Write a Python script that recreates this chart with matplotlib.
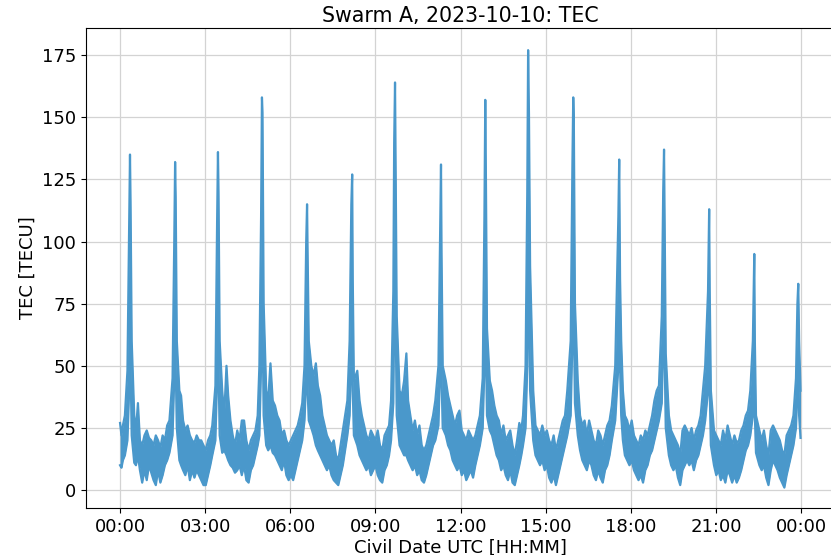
import matplotlib
matplotlib.use("Agg")
import matplotlib.pyplot as plt
import matplotlib.dates as mdates
import numpy as np
import pandas as pd

plt.rcParams["font.family"] = "DejaVu Sans"
plt.rcParams["font.size"] = 13

# hours after 2023-10-10 00:00 UTC, with the lower and upper edge of the TEC band
hours = [
    0.00, 0.05, 0.10, 0.17, 0.26, 0.32, 0.35, 0.37, 0.41, 0.50, 0.56, 0.63, 0.70, 0.78, 0.86, 0.94,
    1.02, 1.10, 1.18, 1.26, 1.34, 1.42, 1.50, 1.58, 1.66, 1.74, 1.85, 1.91, 1.94, 1.96, 2.00, 2.09,
    2.15, 2.22, 2.30, 2.38, 2.46, 2.54, 2.62, 2.70, 2.78, 2.86, 2.94, 3.02, 3.10, 3.18, 3.25, 3.36,
    3.42, 3.45, 3.47, 3.51, 3.60, 3.67, 3.75, 3.81, 3.89, 3.97, 4.05, 4.13, 4.21, 4.29, 4.37, 4.45,
    4.53, 4.61, 4.69, 4.77, 4.85, 4.91, 4.97, 5.00, 5.02, 5.06, 5.15, 5.22, 5.30, 5.38, 5.46, 5.54,
    5.62, 5.70, 5.78, 5.86, 5.94, 6.02, 6.10, 6.18, 6.26, 6.34, 6.42, 6.50, 6.56, 6.59, 6.61, 6.65,
    6.74, 6.82, 6.90, 6.97, 7.05, 7.13, 7.21, 7.29, 7.37, 7.45, 7.53, 7.61, 7.69, 7.77, 7.85, 7.93,
    8.01, 8.09, 8.15, 8.18, 8.20, 8.24, 8.36, 8.44, 8.52, 8.60, 8.68, 8.76, 8.84, 8.92, 9.00, 9.08,
    9.16, 9.24, 9.32, 9.40, 9.48, 9.55, 9.63, 9.66, 9.69, 9.71, 9.75, 9.85, 9.93, 10.01, 10.09, 10.15,
    10.23, 10.31, 10.39, 10.47, 10.55, 10.63, 10.71, 10.79, 10.87, 10.95, 11.03, 11.11, 11.22, 11.28, 11.31, 11.33,
    11.37, 11.48, 11.56, 11.64, 11.72, 11.80, 11.88, 11.96, 12.04, 12.12, 12.20, 12.28, 12.36, 12.44, 12.52, 12.60,
    12.68, 12.78, 12.84, 12.87, 12.89, 12.93, 13.03, 13.11, 13.19, 13.27, 13.35, 13.43, 13.51, 13.59, 13.67, 13.75,
    13.83, 13.91, 13.99, 14.07, 14.14, 14.20, 14.29, 14.35, 14.38, 14.41, 14.45, 14.56, 14.64, 14.72, 14.80, 14.88,
    14.96, 15.04, 15.12, 15.20, 15.28, 15.36, 15.44, 15.52, 15.60, 15.68, 15.76, 15.88, 15.94, 15.97, 15.99, 16.03,
    16.13, 16.21, 16.29, 16.37, 16.45, 16.53, 16.61, 16.69, 16.77, 16.85, 16.93, 17.01, 17.09, 17.17, 17.25, 17.33,
    17.45, 17.56, 17.59, 17.62, 17.66, 17.72, 17.79, 17.87, 17.95, 18.03, 18.11, 18.19, 18.27, 18.35, 18.43, 18.51,
    18.59, 18.67, 18.75, 18.83, 18.91, 18.99, 19.09, 19.14, 19.17, 19.19, 19.23, 19.34, 19.42, 19.50, 19.58, 19.66,
    19.74, 19.82, 19.90, 19.98, 20.06, 20.14, 20.22, 20.30, 20.38, 20.46, 20.54, 20.62, 20.72, 20.76, 20.78, 20.82,
    20.93, 21.01, 21.09, 21.17, 21.25, 21.33, 21.41, 21.49, 21.57, 21.65, 21.73, 21.81, 21.89, 21.97, 22.05, 22.13,
    22.21, 22.30, 22.35, 22.37, 22.41, 22.53, 22.61, 22.69, 22.77, 22.85, 22.93, 23.01, 23.09, 23.17, 23.25, 23.33,
    23.41, 23.49, 23.57, 23.65, 23.73, 23.82, 23.87, 23.90, 23.93, 23.98,
]
tec_low = [
    10, 9, 12, 14, 20, 40, 60, 50, 22, 11, 10, 14, 8, 3, 8, 4,
    10, 7, 4, 2, 8, 3, 6, 10, 12, 15, 22, 45, 70, 50, 25, 12,
    10, 8, 6, 10, 4, 8, 5, 8, 6, 4, 2, 2, 6, 10, 14, 20,
    45, 70, 50, 22, 15, 16, 14, 12, 10, 9, 7, 8, 10, 6, 10, 4,
    3, 8, 10, 14, 18, 22, 50, 80, 70, 30, 18, 16, 18, 15, 14, 12,
    10, 8, 12, 6, 4, 6, 4, 8, 12, 16, 20, 28, 45, 55, 40, 28,
    25, 22, 18, 16, 14, 12, 10, 8, 10, 6, 4, 3, 2, 6, 10, 16,
    22, 30, 55, 70, 40, 22, 18, 14, 12, 10, 8, 10, 6, 8, 10, 6,
    4, 3, 8, 10, 14, 20, 35, 70, 90, 70, 30, 18, 16, 14, 14, 12,
    10, 8, 10, 6, 8, 4, 3, 6, 10, 14, 18, 20, 26, 50, 70, 45,
    25, 22, 18, 16, 12, 10, 8, 10, 6, 8, 4, 6, 8, 5, 10, 14,
    18, 25, 50, 80, 60, 30, 24, 22, 18, 14, 12, 8, 10, 6, 4, 8,
    3, 2, 6, 10, 14, 18, 25, 50, 100, 80, 40, 20, 14, 12, 10, 12,
    8, 10, 5, 3, 6, 2, 6, 10, 14, 18, 22, 30, 60, 80, 70, 35,
    22, 16, 12, 10, 8, 12, 10, 6, 4, 8, 5, 3, 8, 10, 14, 20,
    28, 50, 70, 50, 30, 20, 14, 12, 10, 12, 8, 6, 4, 6, 3, 8,
    10, 14, 16, 20, 24, 28, 35, 60, 70, 55, 25, 14, 10, 8, 10, 5,
    2, 8, 10, 12, 10, 12, 8, 12, 14, 18, 22, 28, 40, 60, 40, 18,
    10, 6, 8, 4, 6, 3, 8, 6, 3, 6, 3, 5, 8, 12, 16, 18,
    22, 30, 45, 30, 15, 10, 8, 10, 5, 2, 8, 12, 10, 8, 5, 3,
    1, 6, 10, 14, 18, 25, 40, 50, 30, 21,
]
tec_high = [
    27, 22, 26, 30, 48, 105, 135, 116, 60, 30, 24, 35, 20, 18, 22, 24,
    21, 20, 18, 22, 20, 17, 22, 20, 26, 28, 45, 100, 132, 118, 60, 40,
    38, 28, 24, 26, 22, 20, 19, 22, 20, 20, 18, 16, 20, 22, 26, 42,
    108, 136, 120, 60, 40, 30, 50, 38, 28, 22, 18, 24, 20, 28, 28, 20,
    16, 20, 22, 24, 30, 50, 110, 158, 152, 75, 40, 36, 51, 36, 34, 30,
    28, 22, 24, 20, 18, 20, 22, 24, 26, 30, 35, 50, 100, 115, 95, 60,
    50, 46, 51, 42, 38, 30, 26, 22, 20, 18, 20, 14, 12, 18, 24, 30,
    36, 60, 115, 127, 85, 44, 48, 36, 30, 26, 22, 20, 24, 22, 20, 24,
    18, 16, 22, 24, 26, 36, 80, 140, 164, 131, 70, 40, 38, 44, 55, 36,
    30, 24, 28, 22, 26, 18, 16, 18, 22, 26, 30, 36, 50, 105, 131, 95,
    50, 44, 38, 34, 30, 26, 30, 32, 24, 22, 20, 24, 22, 20, 22, 26,
    30, 45, 110, 157, 130, 65, 44, 40, 34, 30, 28, 22, 26, 20, 22, 24,
    18, 14, 20, 27, 24, 30, 50, 120, 177, 151, 90, 40, 26, 24, 22, 26,
    22, 24, 20, 18, 22, 16, 20, 24, 28, 30, 40, 60, 130, 158, 150, 75,
    44, 30, 26, 28, 22, 28, 24, 20, 18, 24, 22, 18, 22, 26, 28, 34,
    50, 110, 133, 85, 60, 40, 30, 28, 24, 28, 22, 20, 18, 22, 20, 24,
    22, 26, 30, 36, 40, 42, 70, 120, 137, 110, 55, 30, 24, 22, 20, 18,
    14, 24, 26, 24, 22, 25, 20, 24, 26, 30, 40, 50, 80, 113, 80, 40,
    24, 22, 20, 18, 24, 20, 26, 22, 18, 22, 19, 20, 24, 26, 30, 32,
    40, 60, 95, 60, 30, 24, 20, 24, 18, 14, 24, 26, 24, 22, 20, 16,
    14, 22, 24, 26, 30, 45, 75, 83, 60, 40,
]

day = pd.Timestamp("2023-10-10")
times = day + pd.to_timedelta(np.array(hours), unit="h")
col = "#4a98cb"

fig = plt.figure(figsize=(8.31, 5.55), dpi=100)
ax = fig.add_axes([0.1035, 0.0847, 0.9015, 0.8648])

ax.fill_between(times, tec_low, tec_high, color=col, lw=0)
ax.plot(times, tec_low, color=col, lw=1.6)
ax.plot(times, tec_high, color=col, lw=1.6)

ax.set_xlim(day - pd.Timedelta(hours=1.2), day + pd.Timedelta(hours=25.2))
ax.set_ylim(-7.2, 185.9)
ax.xaxis.set_major_locator(mdates.HourLocator(byhour=range(0, 24, 3)))
ax.xaxis.set_major_formatter(mdates.DateFormatter("%H:%M"))
ax.set_yticks([0, 25, 50, 75, 100, 125, 150, 175])
ax.grid(True, color="#d3d3d3", lw=0.9)
ax.set_axisbelow(True)

ax.set_title("Swarm A, 2023-10-10: TEC", fontsize=14.8, pad=4)
ax.set_xlabel("Civil Date UTC [HH:MM]", labelpad=2)
ax.set_ylabel("TEC [TECU]")

fig.savefig("out.png", dpi=100)
